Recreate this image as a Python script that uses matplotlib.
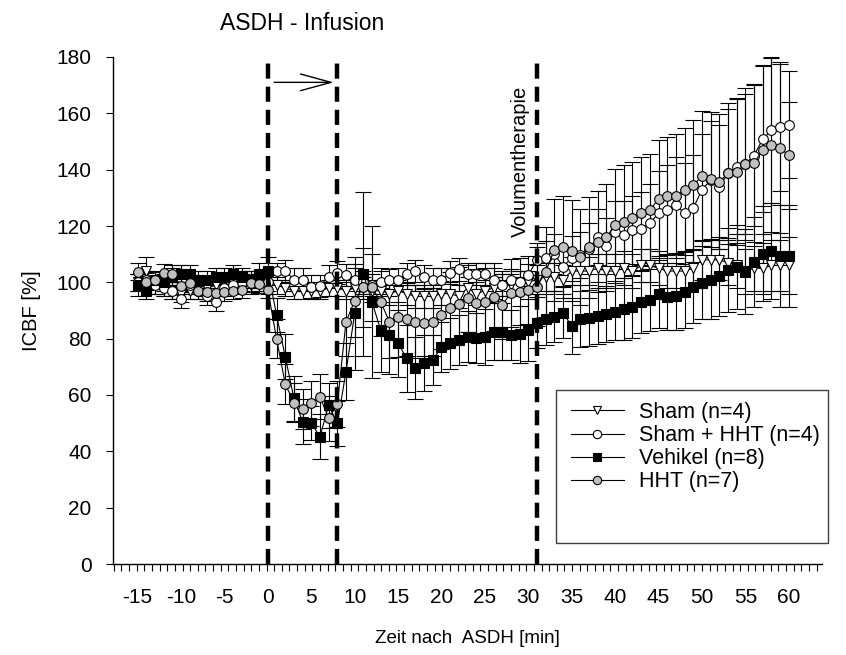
import numpy as np
import matplotlib
matplotlib.use("Agg")
import matplotlib.pyplot as plt
from matplotlib.lines import Line2D
from matplotlib.patches import FancyArrowPatch, Rectangle

plt.rcParams['font.family'] = ['Liberation Sans', 'DejaVu Sans']

# ---------------- data ----------------
minutes = list(range(-15, 61))

sham = [100, 104, 99, 98, 97, 96, 97, 99, 98, 99, 100, 100, 101, 99, 100,
        99, 99, 98, 97, 97, 97, 97, 98, 98,
        97, 98, 98, 97, 97, 96, 97, 96, 95, 95, 95, 96, 96, 95, 98, 96, 97, 98, 99, 99, 100, 100,
        101, 102, 102, 101, 104, 104, 104, 105, 104, 104, 105, 104, 106, 106, 105, 104, 104, 104, 105, 108,
        108, 108, 107, 106, 104, 105, 105, 106, 106, 106]
sham_sd = [3, 5, 3, 3, 3, 3, 3, 3, 3, 3, 3, 3, 3, 3, 3,
           3, 3, 3, 3, 3, 3, 3, 3, 3,
           3, 3, 4, 4, 4, 4, 4, 4, 4, 4, 4, 4, 4, 4, 4, 4, 4, 4, 4, 4, 4, 4,
           5, 5, 5, 5, 5, 5, 5, 5, 6, 6, 6, 6, 6, 6, 6, 6, 6, 7, 7, 7, 7, 7, 8, 8, 8, 8, 9, 9, 9, 10]

sham_hht = [100, 101, 99, 98, 97, 94, 99, 97, 95, 93, 98, 99, 100, 101, 100,
            100, 104, 104, 101, 101, 98.5, 98.7, 102, 103.4,
            102.6, 101, 100, 99, 100, 100.8, 101, 103, 104, 102, 101, 101, 103.4, 104.6, 103, 103, 103, 101, 99, 100.8, 100, 102.6,
            108, 108.6, 110, 105.6, 108.6, 109.7, 112, 116, 113, 118, 116.8, 118.6, 119, 121, 124.5, 125.7, 127.4, 124.5, 126.3, 132.8,
            136.3, 134, 138.7, 141, 142, 145, 150.8, 154, 155.3, 156]
sham_hht_sd = [3, 3, 3, 3, 3, 3, 3, 3, 3, 3, 3, 3, 3, 3, 3,
               3, 3, 4, 4, 4, 4, 4, 4, 4,
               4, 4, 4, 4, 4, 4, 4, 4, 4, 4, 4, 4, 4, 4, 4, 4, 4, 4, 4, 4, 4, 4,
               6, 6, 7, 7, 8, 8, 9, 10, 10, 11, 12, 12, 13, 14, 15, 16, 17, 18, 19, 20, 21, 22, 23, 24, 25, 25, 26, 26, 23, 19]

vehikel = [99, 97, 101, 100, 102, 103, 103, 101, 101, 102, 102, 103, 102, 101, 103,
           104, 88.4, 73.6, 58.8, 50.5, 50, 45.2, 56.4, 50,
           68.3, 89, 103, 93, 83, 81.3, 78.3, 73, 69.5, 71.3, 72.4, 77, 78.3, 79.5, 80.7, 80.2, 80.7, 82.5, 82.5, 81.3, 81.5, 83,
           85.7, 86.9, 87.8, 89.2, 84.5, 86.9, 87.3, 88, 88.7, 89.6, 90.4, 91.3, 93.1, 93.7, 95.8, 94.9, 95, 96.7, 98.4, 99.9,
           101, 102.2, 104.4, 105.5, 103.8, 107.3, 110.2, 111, 109.3, 109.3]
vehikel_sd = [4, 3, 3, 3, 3, 3, 3, 3, 3, 3, 3, 3, 3, 3, 4,
              5, 6, 8, 8, 8, 6, 8, 8, 8,
              10, 20, 29, 27, 15, 14, 12, 12, 11, 10, 9, 9, 9, 9, 9, 9, 10, 10, 10, 9, 10, 11,
              9, 9, 9, 9, 10, 10, 10, 10, 10, 10, 11, 11, 11, 11, 12, 12, 12, 13, 13, 13, 14, 14, 15, 15, 15, 16, 17, 17, 18, 18]

hht = [103.8, 100.2, 100.8, 103.4, 103, 98.7, 99.6, 97, 96.4, 96.3, 96.4, 97, 97.3, 99.6, 99.3,
       97.3, 80, 63.9, 57.3, 55, 57, 59.4, 51.7, 56.8,
       86, 93.5, 98.2, 98.2, 93.1, 86, 87.6, 86.9, 86, 85.7, 86, 88.4, 90.8, 92.3, 94.3, 92.6, 93, 94.7, 91.9, 96.3, 96.7, 97.3,
       98.5, 103.7, 111.5, 112.6, 111.2, 108.9, 112.4, 114.4, 116, 120.3, 121.5, 122.7, 124.5, 125.7, 129.5, 130.6, 130.6, 132.8,
       134.5, 137.7, 136.6, 135.7, 138.7, 139.3, 142, 142.3, 147, 148.7, 147.6, 145.2]
hht_sd = [3, 3, 3, 3, 3, 3, 3, 3, 3, 3, 3, 3, 3, 3, 3,
          3, 7, 7, 7, 7, 8, 8, 8, 8,
          12, 13, 14, 12, 12, 13, 14, 13, 13, 12, 12, 12, 13, 13, 12, 12, 12, 12, 12, 12, 12, 12,
          14, 16, 18, 18, 18, 17, 18, 18, 19, 20, 20, 20, 20, 20, 21, 21, 22, 22, 23, 23, 24, 24, 25, 26, 27, 28, 30, 31, 30, 19]

labels = ["Sham (n=4)", "Sham + HHT (n=4)", "Vehikel (n=8)", "HHT (n=7)"]
event_times = [0, 8, 31]
xtick_labels = [-15, -10, -5, 0, 5, 10, 15, 20, 25, 30, 35, 40, 45, 50, 55, 60]
ytick_values = [0, 20, 40, 60, 80, 100, 120, 140, 160, 180]

# ---------------- figure ----------------
W, H = 846, 655
fig = plt.figure(figsize=(W / 100, H / 100), dpi=100)
ax = fig.add_axes([112.5 / W, 1 - 564 / H, (821.7 - 112.5) / W, (564 - 57) / H])
ax.set_xlim(-17.9, 63.8)
ax.set_ylim(0, 180)

styles = [
    dict(marker='v', mfc='white'),
    dict(marker='o', mfc='white'),
    dict(marker='s', mfc='black'),
    dict(marker='o', mfc='#c0c0c0'),
]
series = [(sham, sham_sd), (sham_hht, sham_hht_sd), (vehikel, vehikel_sd), (hht, hht_sd)]

for (vals, sd), st in zip(series, styles):
    ax.errorbar(minutes, vals, yerr=sd, fmt='-', color='black', lw=0.8,
                marker=st['marker'], mfc=st['mfc'], mec='black', mew=0.8, ms=7,
                ecolor='black', elinewidth=0.8, capsize=6, capthick=0.8, zorder=3)

for t in event_times:
    ax.plot([t, t], [0, 180], color='black', lw=3.2, dashes=(3.4, 1.8), zorder=5, clip_on=False)

# arrow for infusion
arr = FancyArrowPatch((0.4, 171), (7.9, 171), arrowstyle='->,head_length=2.2,head_width=0.6',
                      mutation_scale=10, color='black', lw=1.0, zorder=6, clip_on=False)
ax.add_patch(arr)
ax.text(4.0, 192, "ASDH - Infusion", ha='center', va='center', fontsize=16.5, clip_on=False)
ax.text(29.1, 116, "Volumentherapie", rotation=90, ha='center', va='bottom', fontsize=14.5, zorder=7)

# axes styling
for s in ['top', 'right']:
    ax.spines[s].set_visible(False)
ax.spines['left'].set_linewidth(1.0)
ax.spines['bottom'].set_linewidth(1.0)

ax.set_xticks(xtick_labels)
ax.set_xticklabels([str(v) for v in xtick_labels])
ax.set_xticks(np.arange(-17.75, 64.0, 0.88), minor=True)
ax.tick_params(axis='x', which='major', length=0, pad=17, labelsize=15)
ax.tick_params(axis='x', which='minor', length=5, width=0.8, direction='out')
ax.set_yticks(ytick_values)
ax.tick_params(axis='y', which='major', length=5, width=0.8, pad=10, labelsize=15)

ax.set_xlabel("Zeit nach  ASDH [min]", fontsize=13.5, labelpad=17)
ax.set_ylabel("ICBF [%]", fontsize=14.5, labelpad=11)

# legend: frame drawn separately, entries without frame
fig.add_artist(Rectangle((556 / W, 1 - 543 / H), (828 - 556) / W, (543 - 390) / H,
                         transform=fig.transFigure, fill=True, facecolor='white',
                         edgecolor='#404040', lw=1.0, zorder=8))
handles = [Line2D([], [], color='black', lw=0.8, marker=st['marker'], mfc=st['mfc'],
                  mec='black', mew=0.8, ms=6) for st in styles]
leg = fig.legend(handles, labels, loc='upper left', bbox_to_anchor=(571 / W, 1 - 402 / H),
                 fontsize=15.5, frameon=False, handlelength=2.45, handletextpad=0.72,
                 labelspacing=0.1, borderpad=0.0, borderaxespad=0.0)
leg.set_zorder(9)

fig.savefig("out.png", dpi=100)
